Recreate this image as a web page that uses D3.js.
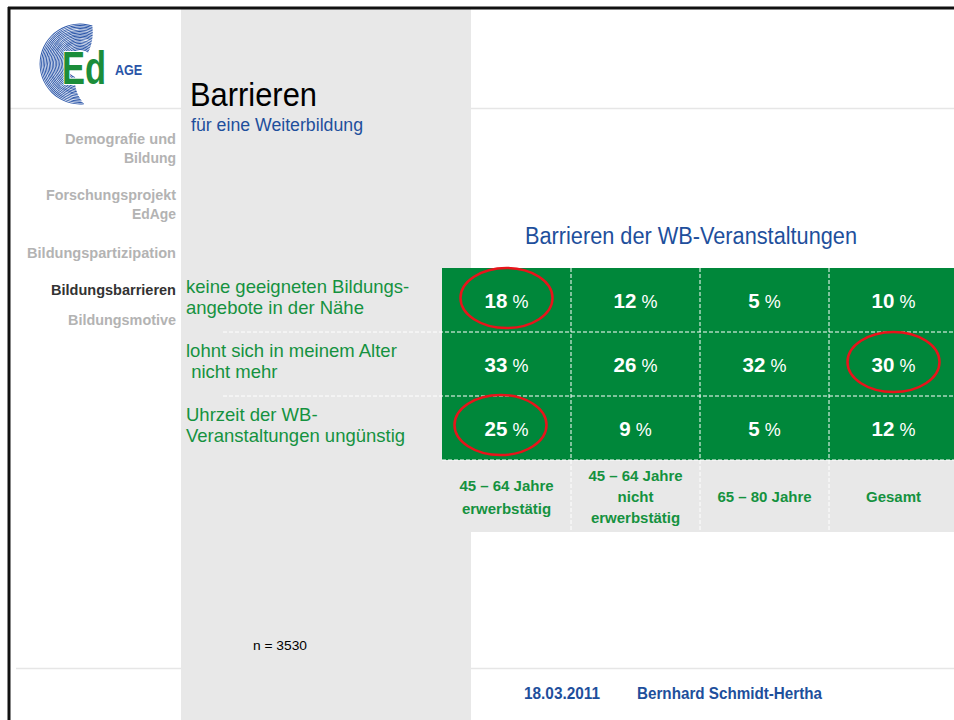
<!DOCTYPE html>
<html>
<head>
<meta charset="utf-8">
<script src="https://cdn.jsdelivr.net/npm/d3@7"></script>
<style>
  html, body { margin: 0; padding: 0; background: #fff; }
  svg { display: block; }
</style>
</head>
<body>
<svg id="chart"></svg>
<script>
(function () {
  var width = 954; var height = 720

  // data
  var rowLabels = [
    ['keine geeigneten Bildungs-', 'angebote in der Nähe'],
    ['lohnt sich in meinem Alter', ' nicht mehr'],
    ['Uhrzeit der WB-', 'Veranstaltungen ungünstig']
  ]
  var colLabels = [
    ['45 – 64 Jahre', 'erwerbstätig'],
    ['45 – 64 Jahre', 'nicht', 'erwerbstätig'],
    ['65 – 80 Jahre'],
    ['Gesamt']
  ]
  var values = [
    [18, 12, 5, 10],
    [33, 26, 32, 30],
    [25, 9, 5, 12]
  ]
  // [row, column] of circled cells
  var highlights = [[0, 0], [1, 3], [2, 0]]
  var navItems = [['Demografie und', 'Bildung'], ['Forschungsprojekt', 'EdAge'], ['Bildungspartizipation'], ['Bildungsbarrieren'], ['Bildungsmotive']]
  var activeNav = 'Bildungsbarrieren'

  var green = '#00873a'
  var textGreen = '#15923f'
  var blue = '#1e4f9c'
  var grey = '#e8e8e8'
  var sans = 'Arial, "Liberation Sans", sans-serif'

  var svg = d3.select('#chart')
    .attr('width', width)
    .attr('height', height)

  // the slide uses a condensed face; squeeze Arial to the width seen in the picture
  function squeeze (sel, len) {
    return sel.attr('textLength', len).attr('lengthAdjust', 'spacingAndGlyphs')
  }

  // frame + background
  svg.append('rect').attr('x', 0).attr('y', 0).attr('width', width).attr('height', height).attr('fill', '#fff')
  svg.append('rect').attr('x', 181).attr('y', 9).attr('width', 290).attr('height', height).attr('fill', grey)
  var rules = [[10, 181, 108.5], [471, width, 108.5], [16, 181, 668.5], [471, width, 668.5]]
  rules.forEach(function (l) {
    svg.append('line').attr('x1', l[0]).attr('x2', l[1]).attr('y1', l[2]).attr('y2', l[2])
      .attr('stroke', '#e6e6e6').attr('stroke-width', 1.5)
  })
  svg.append('line').attr('x1', 8).attr('x2', width).attr('y1', 8).attr('y2', 8).attr('stroke', '#111').attr('stroke-width', 3)
  svg.append('line').attr('x1', 9).attr('x2', 9).attr('y1', 7).attr('y2', height).attr('stroke', '#111').attr('stroke-width', 3)

  // logo
  var logo = svg.append('g').attr('transform', 'translate(80,64)')
  var arc = d3.arc()
  d3.range(14, 40, 1.5).forEach(function (r, i) {
    logo.append('path')
      .attr('d', arc({ innerRadius: r, outerRadius: r + 0.9, startAngle: (200 - i * 1.5) * Math.PI / 180, endAngle: (395 - i * 1.0) * Math.PI / 180 }))
      .attr('fill', '#2a55a8')
  })
  logo.append('g').attr('transform', 'translate(-18,20) scale(0.75,1)')
    .append('text').attr('x', 0).attr('y', 0).attr('font-family', sans)
    .attr('font-weight', 'bold').attr('font-size', 46).attr('fill', '#1b8d3a').attr('stroke', '#fff').attr('stroke-width', 2)
    .attr('paint-order', 'stroke').text('Ed')
  logo.append('g').attr('transform', 'translate(35,11) scale(0.9,1)')
    .append('text').attr('x', 0).attr('y', 0).attr('font-family', sans).attr('font-weight', 'bold')
    .attr('font-size', 14).attr('fill', '#2a55a8').text('AGE')

  // titles
  squeeze(svg.append('text').attr('x', 190).attr('y', 106).attr('font-family', sans).attr('font-size', 33)
    .attr('fill', '#000').text('Barrieren'), 127)
  squeeze(svg.append('text').attr('x', 191).attr('y', 131).attr('font-family', sans).attr('font-size', 18)
    .attr('fill', blue).text('für eine Weiterbildung'), 172)

  // navigation
  var navY = [144, 200, 258, 295, 325]
  var navW = [[111, 52], [130, 44], [149], [125], [108]]
  navItems.forEach(function (lines, i) {
    lines.forEach(function (line, j) {
      squeeze(svg.append('text').attr('x', 176 - navW[i][j]).attr('y', navY[i] + j * 19)
        .attr('font-family', sans).attr('font-weight', 'bold').attr('font-size', 15)
        .attr('fill', line === activeNav ? '#333' : '#b3b3b3').text(line), navW[i][j])
    })
  })

  // table scales
  var x = d3.scaleBand().domain(d3.range(colLabels.length)).range([442, 958])
  var y = d3.scaleBand().domain(d3.range(rowLabels.length)).range([268, 460])
  var labelRowH = 72

  squeeze(svg.append('text').attr('x', 525).attr('y', 244)
    .attr('font-family', sans).attr('font-size', 23).attr('fill', blue).text('Barrieren der WB-Veranstaltungen'), 332)

  svg.append('rect').attr('x', x.range()[0]).attr('y', y.range()[0])
    .attr('width', x.range()[1] - x.range()[0]).attr('height', y.range()[1] - y.range()[0]).attr('fill', green)
  svg.append('rect').attr('x', x.range()[0]).attr('y', y.range()[1])
    .attr('width', x.range()[1] - x.range()[0]).attr('height', labelRowH).attr('fill', grey)

  // dashed grid lines
  y.domain().slice(1).forEach(function (r) {
    svg.append('line').attr('x1', 223).attr('x2', width).attr('y1', y(r)).attr('y2', y(r))
      .attr('stroke', '#fff').attr('stroke-width', 1).attr('stroke-dasharray', '4,2')
  })
  svg.append('line').attr('x1', 442).attr('x2', width).attr('y1', y.range()[1]).attr('y2', y.range()[1])
    .attr('stroke', '#fff').attr('stroke-width', 1).attr('stroke-dasharray', '4,2')
  x.domain().slice(1).forEach(function (c) {
    svg.append('line').attr('x1', x(c)).attr('x2', x(c)).attr('y1', y.range()[0]).attr('y2', y.range()[1] + labelRowH)
      .attr('stroke', '#fff').attr('stroke-width', 1).attr('stroke-dasharray', '4,2')
  })

  // row labels
  rowLabels.forEach(function (lines, r) {
    var t = svg.append('text').attr('x', 186).attr('y', y(r) + 25)
      .attr('font-family', sans).attr('font-size', 18.5).attr('fill', textGreen)
      .attr('xml:space', 'preserve')
    lines.forEach(function (line, j) {
      t.append('tspan').attr('x', 186).attr('dy', j === 0 ? 0 : 21).text(line)
    })
  })

  // cell values
  values.forEach(function (row, r) {
    row.forEach(function (v, c) {
      var t = svg.append('text').attr('x', x(c) + x.bandwidth() / 2).attr('y', y(r) + y.bandwidth() / 2 + 8)
        .attr('text-anchor', 'middle').attr('fill', '#fff').attr('font-family', sans)
      t.append('tspan').attr('font-weight', 'bold').attr('font-size', 20.5).text(v)
      t.append('tspan').attr('font-size', 18).text(' %')
    })
  })

  // column labels
  colLabels.forEach(function (lines, c) {
    var lh = lines.length === 3 ? 21 : 23
    var y0 = y.range()[1] + labelRowH / 2 - (lines.length - 1) * lh / 2 + 6
    var t = svg.append('text').attr('x', x(c) + x.bandwidth() / 2).attr('y', y0)
      .attr('text-anchor', 'middle').attr('font-family', sans).attr('font-weight', 'bold')
      .attr('font-size', 15).attr('fill', textGreen)
    lines.forEach(function (line, j) {
      t.append('tspan').attr('x', x(c) + x.bandwidth() / 2).attr('dy', j === 0 ? 0 : lh).text(line)
    })
  })

  // highlight ellipses
  var ellipseShift = { '0,0': [0, -2], '1,3': [0, -2], '2,0': [-6, -3] }
  highlights.forEach(function (h) {
    var s = ellipseShift[h.join(',')] || [0, 0]
    svg.append('ellipse')
      .attr('cx', x(h[1]) + x.bandwidth() / 2 + s[0])
      .attr('cy', y(h[0]) + y.bandwidth() / 2 + s[1])
      .attr('rx', 46).attr('ry', 30)
      .attr('fill', 'none').attr('stroke', '#e8141b').attr('stroke-width', 2.5)
  })

  // sample size and footer
  squeeze(svg.append('text').attr('x', 253).attr('y', 650).attr('font-family', sans).attr('font-size', 13)
    .attr('fill', '#000').text('n = 3530'), 54)
  squeeze(svg.append('text').attr('x', 524).attr('y', 699).attr('font-family', sans).attr('font-weight', 'bold')
    .attr('font-size', 16).attr('fill', blue).text('18.03.2011'), 76)
  squeeze(svg.append('text').attr('x', 637).attr('y', 699).attr('font-family', sans).attr('font-weight', 'bold')
    .attr('font-size', 16).attr('fill', blue).text('Bernhard Schmidt-Hertha'), 185)
})()
</script>
</body>
</html>
